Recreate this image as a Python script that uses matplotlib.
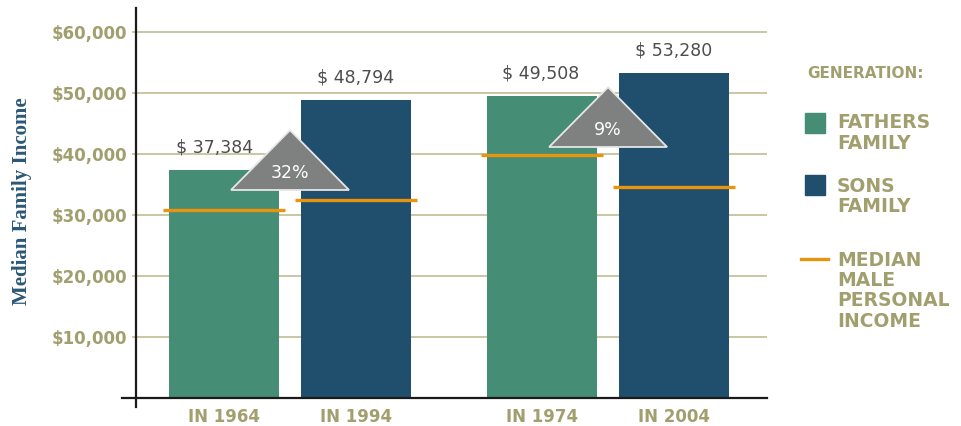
import matplotlib.pyplot as plt
from matplotlib.patches import Polygon, Rectangle
from matplotlib.lines import Line2D

# data
year_labels = ["IN 1964", "IN 1994", "IN 1974", "IN 2004"]
generation = ["fathers", "sons", "fathers", "sons"]
family_income = [37384, 48794, 49508, 53280]
male_income = [30900, 32450, 39800, 34600]
growth_labels = ["32%", "9%"]
y_ticks = [10000, 20000, 30000, 40000, 50000, 60000]

legend_title = "GENERATION:"
legend_fathers = ["FATHERS", "FAMILY"]
legend_sons = ["SONS", "FAMILY"]
legend_male = ["MEDIAN", "MALE", "PERSONAL", "INCOME"]

# colours
green = "#458d74"
blue = "#1f4f6c"
orange = "#e8940f"
olive = "#a29f6f"
grid_col = "#c9c6a2"
tri_gray = "#7f8180"
bar_colors = {"fathers": green, "sons": blue}

W, H = 962, 426
fig = plt.figure(figsize=(W / 100, H / 100), dpi=100)
fig.patch.set_facecolor("white")

# axes in pixel layout: x 136..767, y 8..398
ax = fig.add_axes([136 / W, (H - 398) / H, 631 / W, 390 / H])

pair_starts = [0, 2.41]
xs = [p + k for p in pair_starts for k in (0, 1)]
bar_w = 0.833

ax.bar(xs, family_income, width=bar_w,
       color=[bar_colors[g] for g in generation], zorder=2)

# median male personal income markers
half = bar_w / 2 + 0.045
ax.hlines(male_income, [x - half for x in xs], [x + half for x in xs],
          color=orange, lw=2.4, zorder=4)

# value labels
for x, v, dx in zip(xs, family_income, [-7, 0, -1, 0]):
    ax.annotate(f"$ {v:,}", (x, v), xytext=(dx, 16.5), textcoords="offset points",
                ha="center", va="center", fontsize=12.5, color="#4d4d4d",
                family="DejaVu Sans")

# growth triangles between each pair
tri_base = [34100, 41150]
tri_h = 9800
tri_half = 0.447
for p, base, lab in zip(pair_starts, tri_base, growth_labels):
    cx = p + 0.5
    tri = Polygon([[cx - tri_half, base], [cx + tri_half, base], [cx, base + tri_h]],
                  closed=True, facecolor=tri_gray, edgecolor="#e6e6e6", lw=1.3, zorder=5)
    ax.add_patch(tri)
    ax.text(cx, base + 0.28 * tri_h, lab, ha="center", va="center", color="white",
            fontsize=12.5, zorder=6)

ax.set_ylim(0, 63934)
ax.set_xlim(-0.667, 4.114)
ax.set_yticks(y_ticks)
ax.set_yticklabels([f"${t:,}" for t in y_ticks])
ax.set_xticks(xs)
ax.set_xticklabels(year_labels)
ax.yaxis.grid(True, color=grid_col, lw=1.4, zorder=0)
ax.set_axisbelow(True)
ax.tick_params(axis="y", length=3, width=1.4, color=grid_col, pad=3.6,
               labelcolor=olive, labelsize=12)
ax.tick_params(axis="x", length=0, pad=7, labelcolor=olive, labelsize=12)
for lab in ax.get_yticklabels() + ax.get_xticklabels():
    lab.set_fontweight("bold")
for s in ax.spines.values():
    s.set_visible(False)

# black axis lines crossing at the origin
ax.add_line(Line2D([0, 0], [-0.023, 1], transform=ax.transAxes, color="#1a1a1a",
                   lw=1.6, clip_on=False, zorder=7))
ax.add_line(Line2D([-0.022, 1], [0, 0], transform=ax.transAxes, color="#1a1a1a",
                   lw=1.6, clip_on=False, zorder=7))

fig.text(22 / W, 1 - 201 / H, "Median Family Income", rotation=90, ha="center",
         va="center", fontsize=15, fontweight="bold", color="#2b5876",
         family="Liberation Serif")

# legend, drawn by hand
def fy(y):
    return 1 - y / H

fig.text(807 / W, fy(73), legend_title, ha="left", va="center", fontsize=11,
         fontweight="bold", color=olive)
fig.patches.append(Rectangle((805 / W, fy(133)), 20 / W, 20 / H, color=green,
                             transform=fig.transFigure))
fig.patches.append(Rectangle((805 / W, fy(195)), 20 / W, 20 / H, color=blue,
                             transform=fig.transFigure))
fig.add_artist(Line2D([801 / W, 828 / W], [fy(259), fy(259)], color=orange, lw=2.4,
                      transform=fig.transFigure))
for lines, y0 in [(legend_fathers, 123), (legend_sons, 186), (legend_male, 260)]:
    for i, t in enumerate(lines):
        fig.text(837 / W, fy(y0 + i * 20.5), t, ha="left", va="center", fontsize=13.5,
                 fontweight="bold", color=olive)

fig.savefig("out.png", dpi=100)
